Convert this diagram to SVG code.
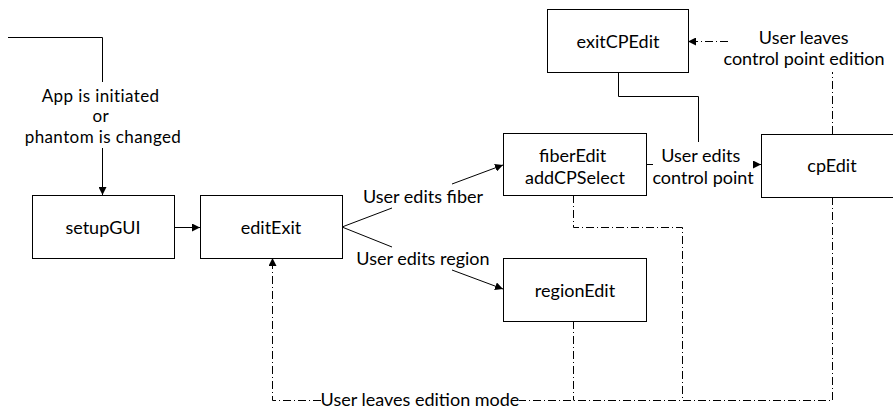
<svg xmlns="http://www.w3.org/2000/svg" width="893" height="410" viewBox="0 0 893 410">
  <defs>
    <marker id="arrow" viewBox="0 0 10 10" refX="10" refY="5" markerWidth="8" markerHeight="8" markerUnits="userSpaceOnUse" orient="auto">
      <path d="M0,0 L10,5 L0,10 z" fill="#000"/>
    </marker>
    <style>
      .box { fill: #fff; stroke: #000; stroke-width: 1; }
      .lbl { font-family: Lato, "Liberation Sans", sans-serif; font-size: 18px; fill: #000; text-anchor: middle; dominant-baseline: central; }
      .tight { font-size: 17px; letter-spacing: 0.4px; }
      .ln { fill: none; stroke: #000; stroke-width: 1; }
      .dd { fill: none; stroke: #000; stroke-width: 1; stroke-dasharray: 8 3 1 3; }
    </style>
  </defs>

  <g id="connectors">
    <!-- entry into setupGUI -->
    <polyline class="ln" points="8,37.5 102.5,37.5 102.5,82"/>
    <line class="ln" x1="102.5" y1="148" x2="102.5" y2="195" marker-end="url(#arrow)"/>
    <text class="lbl tight">
      <tspan x="103" y="94.5">App is initiated</tspan>
      <tspan x="103" y="115">or</tspan>
      <tspan x="103" y="135.5">phantom is changed</tspan>
    </text>

    <!-- setupGUI -> editExit -->
    <line class="ln" x1="174" y1="227.5" x2="200" y2="227.5" marker-end="url(#arrow)"/>

    <!-- editExit -> fiberEdit -->
    <line class="ln" x1="342" y1="227" x2="392" y2="208"/>
    <line class="ln" x1="452" y1="184" x2="503" y2="165" marker-end="url(#arrow)"/>
    <text class="lbl" x="423" y="196">User edits fiber</text>

    <!-- editExit -> regionEdit -->
    <line class="ln" x1="342" y1="227" x2="392" y2="247"/>
    <line class="ln" x1="452" y1="270" x2="503" y2="289" marker-end="url(#arrow)"/>
    <text class="lbl" x="423" y="258">User edits region</text>

    <!-- fiberEdit -> cpEdit -->
    <line class="ln" x1="646" y1="164.5" x2="653" y2="164.5"/>
    <line class="ln" x1="754" y1="164.5" x2="761" y2="164.5" marker-end="url(#arrow)"/>
    <text class="lbl">
      <tspan x="703" y="155">User edits</tspan>
      <tspan x="703" y="177">control point</tspan>
    </text>

    <!-- exitCPEdit to the control point edge -->
    <polyline class="ln" points="618.5,72 618.5,96.5 698.5,96.5 698.5,142"/>

    <!-- cpEdit -> exitCPEdit -->
    <line class="dd" x1="832.5" y1="134" x2="832.5" y2="72"/>
    <line class="dd" x1="728" y1="41.5" x2="688" y2="41.5" marker-end="url(#arrow)"/>
    <text class="lbl">
      <tspan x="806" y="37">User leaves</tspan>
      <tspan x="804" y="58">control point edition</tspan>
    </text>

    <!-- return paths to editExit -->
    <polyline class="dd" points="573.5,195 573.5,227.5 682.5,227.5 682.5,400.5"/>
    <line class="dd" x1="573.5" y1="321" x2="573.5" y2="400.5"/>
    <polyline class="dd" points="832.5,197 832.5,400.5 519,400.5"/>
    <polyline class="dd" points="321,400.5 272.5,400.5 272.5,258" marker-end="url(#arrow)"/>
    <text class="lbl" x="420" y="399">User leaves edition mode</text>
  </g>

  <g id="setupGUI">
    <rect class="box" x="32.5" y="195.5" width="142" height="63"/>
    <text class="lbl" x="103" y="227">setupGUI</text>
  </g>
  <g id="editExit">
    <rect class="box" x="200.5" y="195.5" width="142" height="63"/>
    <text class="lbl" x="271" y="227">editExit</text>
  </g>
  <g id="fiberEdit">
    <rect class="box" x="503.5" y="133.5" width="143" height="62"/>
    <text class="lbl">
      <tspan x="575" y="155">fiberEdit</tspan>
      <tspan x="575" y="177">addCPSelect</tspan>
    </text>
  </g>
  <g id="regionEdit">
    <rect class="box" x="503.5" y="258.5" width="143" height="63"/>
    <text class="lbl" x="575" y="290">regionEdit</text>
  </g>
  <g id="exitCPEdit">
    <rect class="box" x="547.5" y="9.5" width="141" height="63"/>
    <text class="lbl" x="618" y="41">exitCPEdit</text>
  </g>
  <g id="cpEdit">
    <rect class="box" x="761.5" y="134.5" width="142" height="63"/>
    <text class="lbl" x="832" y="165">cpEdit</text>
  </g>
</svg>
